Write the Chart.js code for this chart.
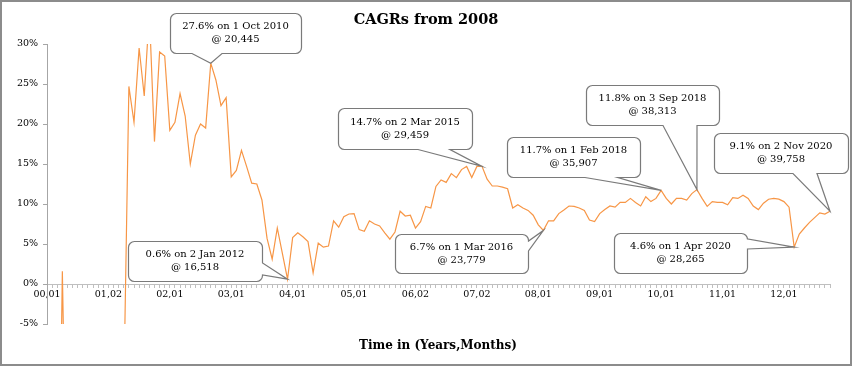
<!DOCTYPE html>
<html>
<head>
<meta charset="utf-8">
<script src="https://cdn.jsdelivr.net/npm/chart.js"></script>
<style>
  body { margin: 0; background: #fff; }
  #wrap { position: relative; width: 853px; height: 367px; }
</style>
</head>
<body>
<div id="wrap"><canvas id="cagr"></canvas></div>
<script>
// tick labels shown every 12 months (years,months since Jan 2008)
var tickLabels = ['00,01', '01,02', '02,01', '03,01', '04,01', '05,01', '06,02',
                  '07,02', '08,01', '09,01', '10,01', '11,01', '12,01'];

// monthly CAGR in % (early months fall far below the axis)
var cagr = [
  -40, -60, -45, 1.6, -35, -50, -55, -50, -60, -75, -70, -65,
  -55, -45, -30, -13.5, 24.7, 20.2, 29.5, 23.5, 34, 17.8, 29.0, 28.5,
  19.2, 20.2, 23.8, 21.0, 15.0, 18.6, 20.0, 19.5, 27.6, 25.5, 22.3, 23.3,
  13.4, 14.2, 16.7, 14.7, 12.6, 12.5, 10.5, 5.7, 3.1, 7.0, 3.8, 0.6,
  5.8, 6.4, 5.9, 5.3, 1.4, 5.1, 4.6, 4.75, 7.9, 7.1, 8.4, 8.75,
  8.8, 6.8, 6.6, 7.9, 7.5, 7.25, 6.4, 5.6, 6.5, 9.1, 8.5, 8.6,
  7.0, 7.8, 9.7, 9.5, 12.2, 13.0, 12.7, 13.8, 13.3, 14.3, 14.7, 13.3,
  14.7, 14.7, 13.1, 12.25, 12.25, 12.1, 11.9, 9.5, 9.9, 9.5, 9.2, 8.6,
  7.4, 6.7, 7.9, 7.9, 8.8, 9.25, 9.75, 9.7, 9.5, 9.2, 8.0, 7.8,
  8.8, 9.3, 9.75, 9.6, 10.2, 10.2, 10.7, 10.2, 9.75, 10.9, 10.3, 10.7,
  11.7, 10.7, 10.0, 10.7, 10.7, 10.5, 11.3, 11.8, 10.7, 9.7, 10.3, 10.2,
  10.2, 9.9, 10.8, 10.7, 11.1, 10.7, 9.75, 9.3, 10.1, 10.6, 10.7, 10.6,
  10.3, 9.6, 4.6, 6.25, 7.0, 7.7, 8.3, 8.9, 8.75, 9.1
];

// annotated points: index into cagr and the two text lines
var noteIndex = [32, 47, 85, 97, 120, 127, 146, 153];
var noteText = [
  ['27.6% on 1 Oct 2010', '@ 20,445'],
  ['0.6% on 2 Jan 2012', '@ 16,518'],
  ['14.7% on 2 Mar 2015', '@ 29,459'],
  ['6.7% on 1 Mar 2016', '@ 23,779'],
  ['11.7% on 1 Feb 2018', '@ 35,907'],
  ['11.8% on 3 Sep 2018', '@ 38,313'],
  ['4.6% on 1 Apr 2020', '@ 28,265'],
  ['9.1% on 2 Nov 2020', '@ 39,758']
];

// callout box placement (pixels) and where the wedge leaves the box
var noteBoxes = [
  { x: 170, y: 13,  w: 131, h: 40, side: 'bottom', a0: 192, a1: 222 },
  { x: 128, y: 241, w: 134, h: 40, side: 'right',  a0: 263, a1: 275 },
  { x: 338, y: 108, w: 134, h: 41, side: 'bottom', a0: 418, a1: 450 },
  { x: 395, y: 234, w: 133, h: 39, side: 'right',  a0: 241, a1: 251 },
  { x: 507, y: 137, w: 133, h: 40, side: 'bottom', a0: 585, a1: 618 },
  { x: 586, y: 85,  w: 133, h: 40, side: 'bottom', a0: 663, a1: 697 },
  { x: 614, y: 233, w: 133, h: 40, side: 'right',  a0: 239, a1: 249 },
  { x: 714, y: 133, w: 134, h: 40, side: 'bottom', a0: 793, a1: 817 }
];

var labels = cagr.map(function (v, i) { return i % 12 === 0 ? tickLabels[i / 12] : ''; });

var FONT = '"DejaVu Serif", serif';

function calloutPath(c, b, tip, r) {
  var x = b.x + 0.5, y = b.y + 0.5, w = b.w, h = b.h;
  c.beginPath();
  c.moveTo(x + r, y);
  c.lineTo(x + w - r, y);
  c.arcTo(x + w, y, x + w, y + r, r);
  if (b.side === 'right') {
    c.lineTo(x + w, b.a0);
    c.lineTo(tip.x, tip.y);
    c.lineTo(x + w, b.a1);
  }
  c.lineTo(x + w, y + h - r);
  c.arcTo(x + w, y + h, x + w - r, y + h, r);
  if (b.side === 'bottom') {
    c.lineTo(b.a1, y + h);
    c.lineTo(tip.x, tip.y);
    c.lineTo(b.a0, y + h);
  }
  c.lineTo(x + r, y + h);
  c.arcTo(x, y + h, x, y + h - r, r);
  c.lineTo(x, y + r);
  c.arcTo(x, y, x + r, y, r);
  c.closePath();
}

var extras = {
  id: 'extras',
  afterDatasetsDraw: function (chart) {
    var c = chart.ctx;
    var pts = chart.getDatasetMeta(0).data;
    c.save();
    noteIndex.forEach(function (idx, k) {
      var b = noteBoxes[k];
      var p = pts[idx];
      calloutPath(c, b, { x: p.x, y: p.y }, 6);
      c.fillStyle = '#fff';
      c.fill();
      c.strokeStyle = '#7a7a7a';
      c.lineWidth = 1.2;
      c.stroke();
      c.fillStyle = '#000';
      c.font = '10px ' + FONT;
      c.textAlign = 'center';
      c.textBaseline = 'middle';
      var cx = b.x + b.w / 2, cy = b.y + b.h / 2;
      c.fillText(noteText[k][0], cx, cy - 6.5);
      c.fillText(noteText[k][1], cx, cy + 6.5);
    });
    c.restore();
  },
  afterDraw: function (chart) {
    var c = chart.ctx;
    c.save();
    c.fillStyle = '#000';
    c.textAlign = 'center';
    c.textBaseline = 'middle';
    c.font = 'bold 14.5px ' + FONT;
    c.fillText('CAGRs from 2008', 426, 20);
    c.font = 'bold 12px ' + FONT;
    c.fillText('Time in (Years,Months)', 438, 346);
    c.strokeStyle = '#8c8c8c';
    c.lineWidth = 2;
    c.strokeRect(1, 1, 850, 364);
    c.restore();
  }
};

var ctx = document.getElementById('cagr').getContext('2d');
var cagrChart = new Chart(ctx, {
  type: 'line',
  data: {
    labels: labels,
    datasets: [{
      data: cagr,
      borderColor: '#f79646',
      borderWidth: 1.2,
      pointRadius: 0,
      tension: 0,
      fill: false
    }]
  },
  options: {
    responsive: true,
    maintainAspectRatio: false,
    animation: false,
    events: [],
    layout: { padding: { top: 44, bottom: 43, left: 0, right: 23 } },
    plugins: {
      legend: { display: false },
      title: { display: false },
      tooltip: { enabled: false }
    },
    scales: {
      x: {
        position: { y: 0 },
        afterFit: function (s) { s.height = 0; },
        grid: { drawOnChartArea: false, drawTicks: true, tickLength: 3, color: '#bfbfbf' },
        border: { color: '#bfbfbf' },
        ticks: {
          autoSkip: false,
          maxRotation: 0,
          padding: 2,
          color: '#000',
          font: { family: FONT, size: 9.5 }
        }
      },
      y: {
        min: -5,
        max: 30,
        afterFit: function (s) { s.width = 47; },
        grid: { drawOnChartArea: false, drawTicks: true, tickLength: 4, color: '#a6a6a6' },
        border: { color: '#a6a6a6' },
        ticks: {
          stepSize: 5,
          padding: 5,
          color: '#000',
          font: { family: FONT, size: 9.5 },
          callback: function (v) { return v + '%'; }
        }
      }
    }
  },
  plugins: [extras]
});
</script>
</body>
</html>
